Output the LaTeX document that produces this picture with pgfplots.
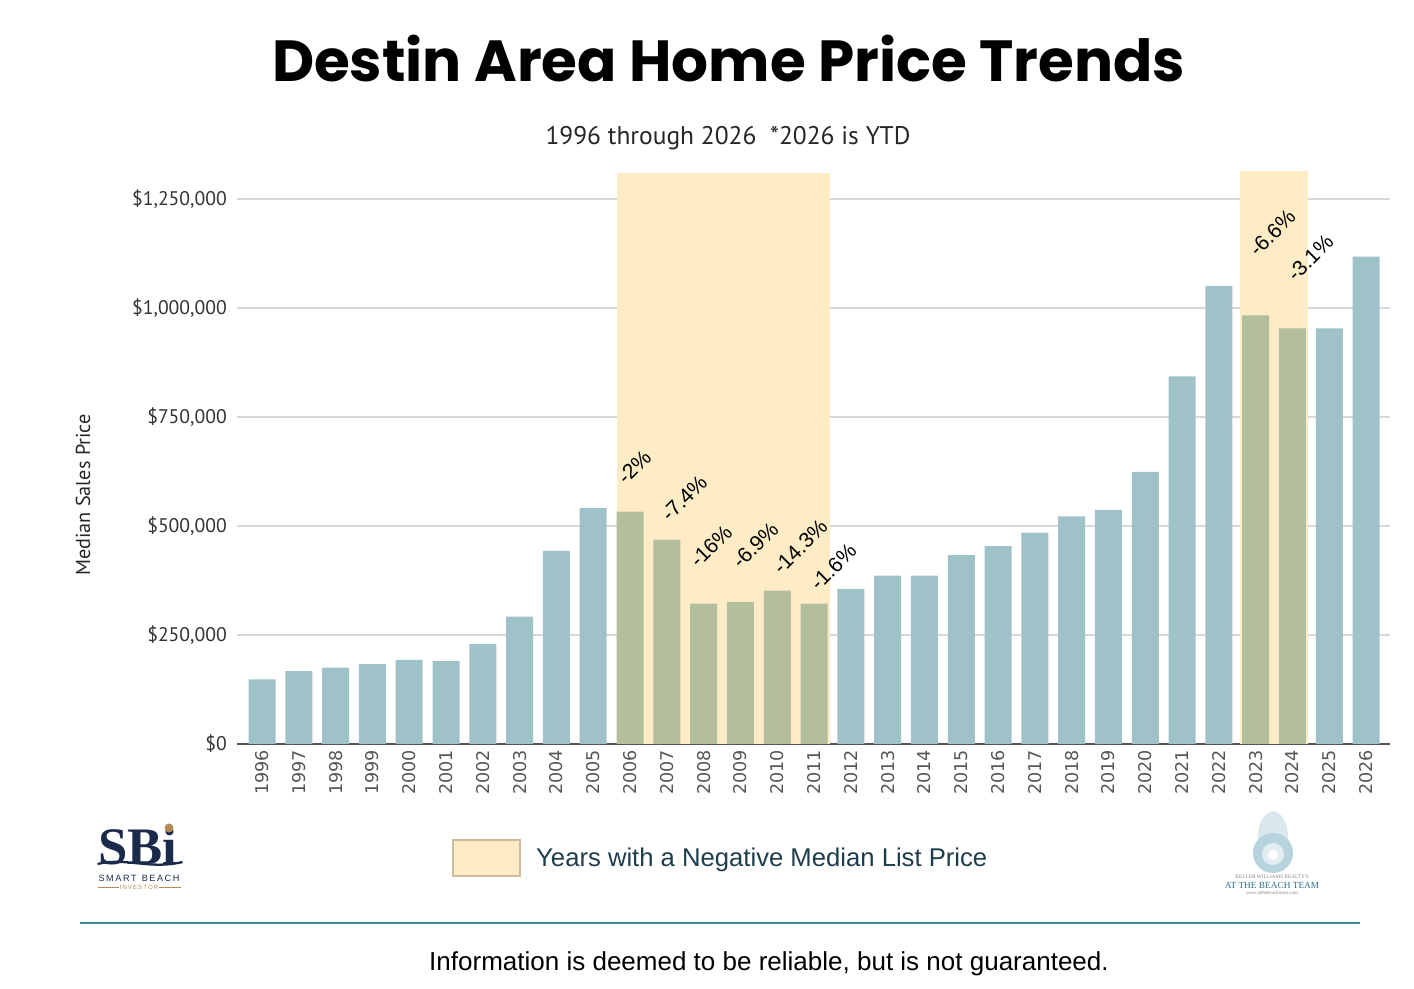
\documentclass[border=0pt]{standalone}
\usepackage{fontspec}
\setmainfont{Liberation Sans}
\newfontfamily\titlefont{Poppins}
\newfontfamily\comicfont{PT Sans}
\newfontfamily\seriffont{Liberation Serif}
\newfontfamily\legfont{Liberation Sans}
\newfontfamily\yearfont{DejaVu Sans}
\usepackage{pgfplots}
\pgfplotsset{compat=1.18}
\usepackage{pgfplotstable}

\definecolor{barblue}{HTML}{9FC1C8}
\definecolor{bargreen}{HTML}{B3BF9C}
\definecolor{shade}{HTML}{FDECC6}
\definecolor{gridgray}{HTML}{D8D8D8}
\definecolor{axisgray}{HTML}{555555}
\definecolor{legtext}{HTML}{1E3D4C}
\definecolor{footline}{HTML}{3E8A93}
\definecolor{navy}{HTML}{1B2A4A}
\definecolor{gold}{HTML}{B08D57}
\definecolor{shellblue}{HTML}{A9CBD8}
\definecolor{teal}{HTML}{2F6F86}
\definecolor{legborder}{HTML}{CDBB9A}

\pgfplotstableread{
x y
0 148000
1 167000
2 175000
3 183000
4 193000
5 190000
6 229000
7 292000
8 443000
9 541000
16 356000
17 386000
18 386000
19 433000
20 454000
21 485000
22 522000
23 537000
24 624000
25 843000
26 1051000
29 953000
30 1118000
}\normaldata

\pgfplotstableread{
x y
10 533000
11 469000
12 322000
13 326000
14 352000
15 322000
27 983000
28 953000
}\negdata

\begin{document}
\begin{tikzpicture}
\useasboundingbox (0,0) rectangle (28.28,19.78);
\begin{axis}[
  at={(4.74cm,4.90cm)}, anchor=south west,
  width=23.06cm, height=11.51cm, scale only axis,
  xmin=-0.68, xmax=30.65, ymin=0, ymax=1320000,
  axis x line*=bottom, axis y line*=left,
  y axis line style={draw=none},
  x axis line style={draw=axisgray, line width=1.1pt},
  major tick length=0pt,
  xtick={0,1,...,30},
  xticklabels={1996,1997,1998,1999,2000,2001,2002,2003,2004,2005,2006,2007,2008,2009,2010,2011,2012,2013,2014,2015,2016,2017,2018,2019,2020,2021,2022,2023,2024,2025,2026},
  ytick={0,250000,500000,750000,1000000,1250000},
  yticklabels={{\$0},{\$250,000},{\$500,000},{\$750,000},{\$1,000,000},{\$1,250,000}},
  scaled y ticks=false,
  ymajorgrids, grid style={gridgray, line width=0.7pt},
  clip=false,
  xticklabel style={rotate=90, anchor=east, font=\yearfont\fontsize{10}{11}\selectfont, text=axisgray},
  yticklabel style={font=\comicfont\fontsize{11.2}{13}\selectfont, text=black!80, xshift=-0.08cm},
]
\addplot[fill=shade, draw=none] coordinates {(9.64,1310000) (15.43,1310000)} \closedcycle;
\addplot[fill=shade, draw=none] coordinates {(26.58,1315000) (28.42,1315000)} \closedcycle;
\addplot[ybar, bar width=0.54cm, bar shift=0pt, fill=barblue, draw=none] table[x=x,y=y] {\normaldata};
\addplot[ybar, bar width=0.54cm, bar shift=0pt, fill=bargreen, draw=none] table[x=x,y=y] {\negdata};

\begin{scope}[every node/.style={rotate=45, font=\legfont\fontsize{12}{14}\selectfont, text=black, inner sep=0pt}]
\node at (axis cs:10.11,635000) {-2\%};
\node at (axis cs:11.47,564000) {-7.4\%};
\node at (axis cs:12.20,454000) {-16\%};
\node at (axis cs:13.40,456000) {-6.9\%};
\node at (axis cs:14.62,452000) {-14.3\%};
\node at (axis cs:15.52,406000) {-1.6\%};
\node at (axis cs:27.45,1172000) {-6.6\%};
\node at (axis cs:28.48,1115000) {-3.1\%};
\end{scope}
\end{axis}

% titles
\node[font=\titlefont\bfseries\fontsize{33}{40}\selectfont] at (14.57,18.60) {Destin Area Home Price Trends};
\node[font=\comicfont\fontsize{14.5}{17}\selectfont, text=black!85] at (14.56,17.02) {1996 through 2026\ \ *2026 is YTD};
\node[rotate=90, font=\comicfont\fontsize{11.5}{13}\selectfont, text=black!85] at (1.66,9.88) {Median Sales Price};

% legend
\draw[fill=shade, draw=legborder, line width=0.6pt] (9.06,2.26) rectangle (10.40,2.98);
\node[anchor=west, font=\legfont\fontsize{14.6}{17}\selectfont, text=legtext] at (10.60,2.58) {Years with a Negative Median List Price};

% footer
\draw[footline, line width=1.2pt] (1.6,1.32) -- (27.2,1.32);
\node[font=\legfont\fontsize{14.8}{17}\selectfont, text=black] at (15.38,0.50) {Information is deemed to be reliable, but is not guaranteed.};

% SBi logo
\node[font=\seriffont\bfseries\fontsize{30}{30}\selectfont, text=navy] at (2.76,2.86) {SBi};
\fill[gold] (3.38,3.22) circle (0.09);
\draw[navy, line width=1.3pt] (1.95,2.50) .. controls (2.5,2.64) and (3.0,2.38) .. (3.65,2.54);
\node[font=\legfont\fontsize{5.2}{6}\selectfont, text=navy] at (2.78,2.22) {S\,M\,A\,R\,T\ \ B\,E\,A\,C\,H};
\node[font=\legfont\fontsize{3.5}{4}\selectfont, text=gold] at (2.78,2.03) {I\,N\,V\,E\,S\,T\,O\,R};
\draw[gold, line width=0.3pt] (1.95,2.03) -- (2.38,2.03) (3.18,2.03) -- (3.62,2.03);

% At the Beach logo
\fill[shellblue!45] (25.46,3.05) ellipse (0.30 and 0.50);
\fill[shellblue!85] (25.46,2.72) circle (0.40);
\fill[white!65!shellblue] (25.46,2.70) circle (0.22);
\fill[white] (25.46,2.68) circle (0.10);
\node[font=\seriffont\fontsize{3}{4}\selectfont, text=gray] at (25.44,2.24) {KELLER WILLIAMS REALTY'S};
\node[font=\seriffont\fontsize{5.3}{6}\selectfont, text=teal] at (25.44,2.08) {AT THE BEACH TEAM};
\node[font=\seriffont\fontsize{2.8}{3}\selectfont, text=gray] at (25.44,1.93) {www.atthebeachteam.com};
\end{tikzpicture}
\end{document}
